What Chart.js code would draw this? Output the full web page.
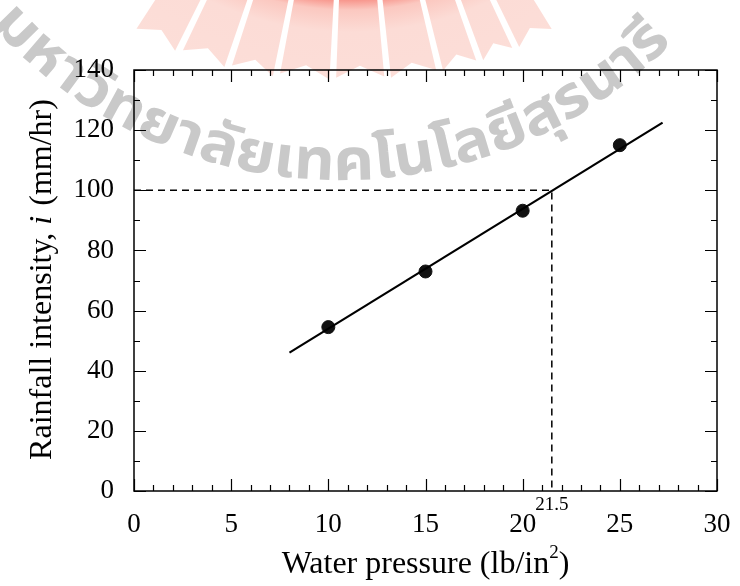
<!DOCTYPE html>
<html>
<head>
<meta charset="utf-8">
<script src="https://cdn.jsdelivr.net/npm/chart.js@4.4.1/dist/chart.umd.min.js"></script>
<style>
html,body{margin:0;padding:0;background:#fff;}
#wrap{width:740px;height:586px;position:relative;}
</style>
</head>
<body>
<div id="wrap"><canvas id="c" width="740" height="586"></canvas></div>
<script>
// ---- data ----
const pressure = [10, 15, 20, 25];
const intensity = [54.5, 73, 93.2, 115];
const fitX = [8, 27.2];
const fitY = [46, 122.5];
const guideX = [0, 21.5, 21.5];
const guideY = [100, 100, 0];
const markerValue = 21.5;
const markerLabel = '21.5';
const xTickValues = [0, 5, 10, 15, 20, 25, 30];
const yTickValues = [0, 20, 40, 60, 80, 100, 120, 140];
const watermarkText = 'มหาวิทยาลัยเทคโนโลยีสุรนารี';

const serif = '"Liberation Serif", "Times New Roman", serif';
const thaiFont = '"Noto Sans Thai", "Noto Sans", sans-serif';

const toXY = (xs, ys) => xs.map((x, i) => ({x: x, y: ys[i]}));

function clusters(str) {
  if (typeof Intl !== 'undefined' && Intl.Segmenter) {
    return Array.from(new Intl.Segmenter('th', {granularity: 'grapheme'}).segment(str), s => s.segment);
  }
  const out = [];
  for (const ch of Array.from(str)) {
    const c = ch.charCodeAt(0);
    const comb = c === 0x0E31 || (c >= 0x0E34 && c <= 0x0E3A) || (c >= 0x0E47 && c <= 0x0E4E);
    if (comb && out.length) out[out.length - 1] += ch; else out.push(ch);
  }
  return out;
}

const watermark = {
  id: 'watermark',
  beforeDraw(chart) {
    const ctx = chart.ctx;
    ctx.save();
    // emblem rays (fan)
    const cx = 350, cy = -300;
    const d2r = Math.PI / 180;
    const edges = [58, 64.5, 70.2, 76.4, 84.3, 92.6, 101.1, 108.4, 116, 123.5];
    const tipR = [386, 384, 382, 380, 378, 380, 384, 388, 392];
    const grad = ctx.createRadialGradient(cx, cy, 0, cx, cy, 400);
    grad.addColorStop(0.0, 'rgb(244,110,100)');
    grad.addColorStop(0.745, 'rgb(247,140,130)');
    grad.addColorStop(0.775, 'rgb(251,200,192)');
    grad.addColorStop(0.83, 'rgb(252,220,214)');
    grad.addColorStop(1.0, 'rgb(252,222,216)');
    ctx.fillStyle = grad;
    for (let i = 0; i < edges.length - 1; i++) {
      const a0 = (edges[i] + 0.5) * d2r, a1 = (edges[i + 1] - 0.5) * d2r;
      const am = (a0 + a1) / 2;
      const R = tipR[i];
      const pt = (r, a) => [cx + r * Math.cos(a), cy + r * Math.sin(a)];
      ctx.beginPath();
      let p = pt(250, a0); ctx.moveTo(p[0], p[1]);
      p = pt(R, a0); ctx.lineTo(p[0], p[1]);
      p = pt(R - 12, am); ctx.lineTo(p[0], p[1]);
      p = pt(R, a1); ctx.lineTo(p[0], p[1]);
      p = pt(250, a1); ctx.lineTo(p[0], p[1]);
      ctx.closePath();
      ctx.fill();
    }
    // watermark text on an arc
    const parts = clusters(watermarkText);
    const fs = 58;
    ctx.font = 'bold ' + fs + 'px ' + thaiFont;
    const widths = parts.map(s => ctx.measureText(s).width);
    const total = widths.reduce((a, b) => a + b, 0);
    const ox = 340, oy = -290, r = 470;
    const phiStart = 138 * d2r, phiEnd = 45 * d2r;
    const arcLen = r * (phiStart - phiEnd);
    const sx = arcLen / total;
    ctx.fillStyle = '#c9c9c9';
    ctx.textAlign = 'center';
    ctx.textBaseline = 'alphabetic';
    let cum = 0;
    for (let k = 0; k < parts.length; k++) {
      const s = (cum + widths[k] / 2) * sx;
      cum += widths[k];
      const phi = phiStart - s / r;
      const x = ox + r * Math.cos(phi), y = oy + r * Math.sin(phi);
      ctx.save();
      ctx.translate(x, y);
      ctx.rotate(phi - Math.PI / 2);
      ctx.scale(sx, 1);
      ctx.fillText(parts[k], 0, 0);
      ctx.restore();
    }
    ctx.restore();
  }
};

const frameTicks = {
  id: 'frameTicks',
  afterDatasetsDraw(chart) {
    const ctx = chart.ctx, a = chart.chartArea;
    const xs = chart.scales.x, ys = chart.scales.y;
    ctx.save();
    ctx.strokeStyle = '#000';
    ctx.lineWidth = 1.5;
    ctx.strokeRect(a.left, a.top, a.right - a.left, a.bottom - a.top);
    ctx.lineWidth = 1.2;
    ctx.beginPath();
    for (let v = xs.min; v <= xs.max; v += 1) {
      const p = Math.round(xs.getPixelForValue(v)) + 0.5;
      const len = (v % 5 === 0) ? 12 : 6;
      ctx.moveTo(p, a.bottom); ctx.lineTo(p, a.bottom - len);
      ctx.moveTo(p, a.top); ctx.lineTo(p, a.top + len);
    }
    for (let v = ys.min; v <= ys.max; v += 10) {
      const p = Math.round(ys.getPixelForValue(v)) + 0.5;
      const len = (v % 20 === 0) ? 12 : 6;
      ctx.moveTo(a.left, p); ctx.lineTo(a.left + len, p);
      ctx.moveTo(a.right, p); ctx.lineTo(a.right - len, p);
    }
    ctx.stroke();
    // 21.5 marker label
    ctx.fillStyle = '#000';
    ctx.font = '19px ' + serif;
    ctx.textAlign = 'center';
    ctx.textBaseline = 'alphabetic';
    ctx.fillText(markerLabel, xs.getPixelForValue(markerValue), a.bottom + 19);
    // x axis title
    const t1 = 'Water pressure (lb/in', t2 = ')';
    ctx.font = '32px ' + serif;
    const w1 = ctx.measureText(t1).width;
    ctx.font = '19px ' + serif;
    const ws = ctx.measureText('2').width;
    ctx.font = '32px ' + serif;
    const w2 = ctx.measureText(t2).width;
    const cx = (a.left + a.right) / 2;
    const sx = cx - (w1 + ws + w2) / 2;
    const by = 573;
    ctx.textAlign = 'left';
    ctx.fillText(t1, sx, by);
    ctx.font = '19px ' + serif;
    ctx.fillText('2', sx + w1, by - 15);
    ctx.font = '32px ' + serif;
    ctx.fillText(t2, sx + w1 + ws, by);
    // y axis title
    ctx.save();
    ctx.translate(51, (a.top + a.bottom) / 2);
    ctx.rotate(-Math.PI / 2);
    const p1 = 'Rainfall intensity, ', p2 = 'i', p3 = ' (mm/hr)';
    ctx.font = '32px ' + serif; const a1 = ctx.measureText(p1).width;
    ctx.font = 'italic 32px ' + serif; const a2 = ctx.measureText(p2).width;
    ctx.font = '32px ' + serif; const a3 = ctx.measureText(p3).width;
    const s = -(a1 + a2 + a3) / 2;
    ctx.font = '32px ' + serif; ctx.fillText(p1, s, 0);
    ctx.font = 'italic 32px ' + serif; ctx.fillText(p2, s + a1, 0);
    ctx.font = '32px ' + serif; ctx.fillText(p3, s + a1 + a2 + 2, 0);
    ctx.restore();
    ctx.restore();
  }
};

new Chart(document.getElementById('c'), {
  type: 'scatter',
  data: {
    datasets: [
      {
        label: 'guide',
        data: toXY(guideX, guideY),
        showLine: true,
        borderColor: '#000',
        borderWidth: 1.5,
        borderDash: [7, 5],
        pointRadius: 0,
        fill: false
      },
      {
        label: 'fit',
        data: toXY(fitX, fitY),
        showLine: true,
        borderColor: '#000',
        borderWidth: 2.2,
        pointRadius: 0,
        fill: false
      },
      {
        label: 'measured',
        data: toXY(pressure, intensity),
        showLine: false,
        backgroundColor: '#111',
        borderColor: '#111',
        pointRadius: 6.5,
        pointHoverRadius: 6.5
      }
    ]
  },
  options: {
    responsive: false,
    animation: false,
    events: [],
    layout: {padding: {top: 70, right: 23, left: 0, bottom: 0}},
    plugins: {legend: {display: false}, tooltip: {enabled: false}},
    scales: {
      x: {
        type: 'linear', min: 0, max: 30,
        afterBuildTicks: (s) => { s.ticks = xTickValues.map(v => ({value: v})); },
        afterFit: (s) => { s.height = 95; s.paddingLeft = 0; s.paddingRight = 0; },
        grid: {display: false, drawTicks: false},
        border: {display: false},
        ticks: {color: '#000', font: {family: serif, size: 27}, padding: 18, maxRotation: 0}
      },
      y: {
        type: 'linear', min: 0, max: 140,
        afterBuildTicks: (s) => { s.ticks = yTickValues.map(v => ({value: v})); },
        afterFit: (s) => { s.width = 134; s.paddingTop = 0; s.paddingBottom = 0; },
        grid: {display: false, drawTicks: false},
        border: {display: false},
        ticks: {color: '#000', font: {family: serif, size: 27}, padding: 20}
      }
    }
  },
  plugins: [watermark, frameTicks]
});
</script>
</body>
</html>
